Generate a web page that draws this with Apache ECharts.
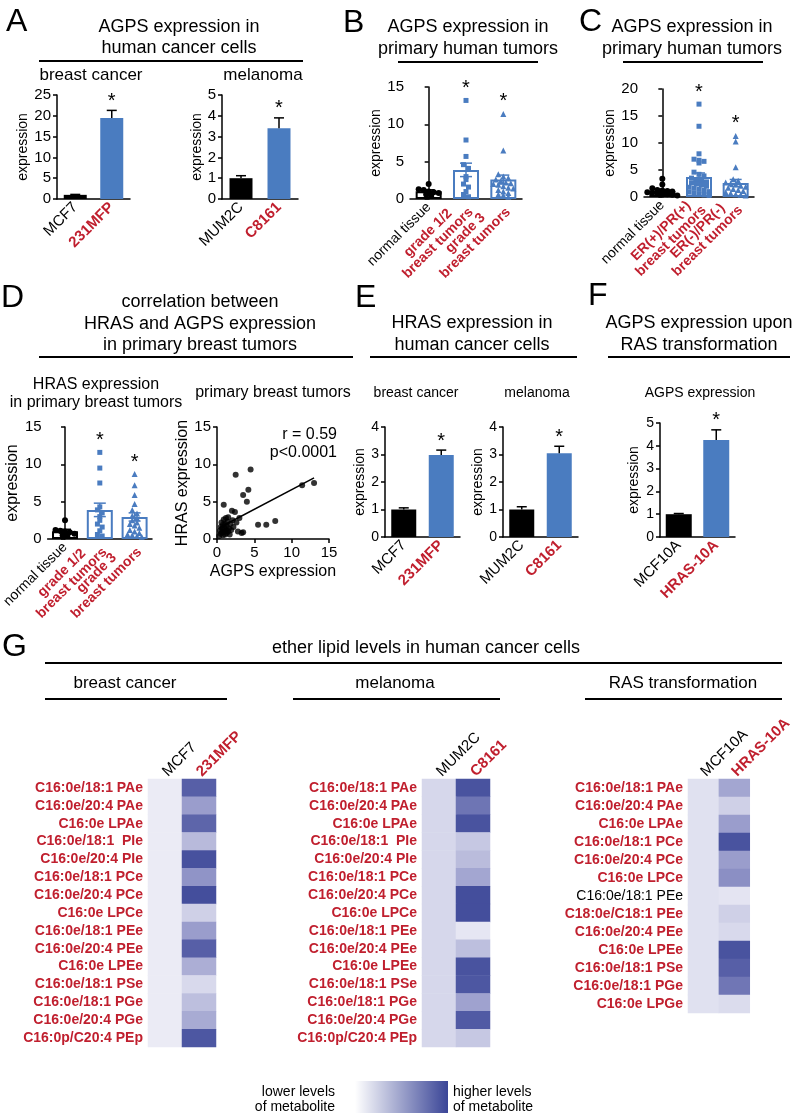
<!DOCTYPE html>
<html><head><meta charset="utf-8">
<script src="https://cdn.jsdelivr.net/npm/echarts@6/dist/echarts.min.js"></script>
<style>html,body{margin:0;padding:0;background:#fff}#c{width:793px;height:1115px}</style>
</head><body><div id="c"></div>
<script>
// ================= DATA =================
// Panel A – AGPS expression in human cancer cells
const aBreastCats = ['MCF7', '231MFP'];
const aBreastMean = [1.0, 19.5];
const aBreastSem  = [0.1, 1.8];
const aBreastSig  = [false, true];
const aBreastTicks = [0, 5, 10, 15, 20, 25];
const aMelCats = ['MUM2C', 'C8161'];
const aMelMean = [1.0, 3.4];
const aMelSem  = [0.12, 0.5];
const aMelSig  = [false, true];
const aMelTicks = [0, 1, 2, 3, 4, 5];

// Panel B – AGPS expression in primary human tumors (by grade)
const bCats = ['normal tissue', 'grade 1/2\nbreast tumors', 'grade 3\nbreast tumors'];
const bNormal  = [2.0, 1.3, 1.2, 1.0, 0.9, 0.8, 0.6, 0.4];
const bGrade12 = [13.2, 7.9, 5.7, 4.6, 4.1, 3.0, 2.6, 2.0, 1.6, 1.0, 0.6, 0.3];
const bGrade3  = [11.4, 6.5, 3.3, 3.0, 2.8, 2.6, 2.4, 2.2, 2.1, 2.0, 1.9, 1.7, 1.5, 1.4, 1.2, 1.0, 0.8, 0.6, 0.5, 0.3];
const bMean = [1.05, 3.9, 2.6];
const bSem  = [0.18, 0.9, 0.6];
const bSig  = [false, true, true];
const bTicks = [0, 5, 10, 15];

// Panel C – AGPS expression in primary human tumors (by receptor status)
const cCats = ['normal tissue', 'ER(+)/PR(+)\nbreast tumors', 'ER(-)/PR(-)\nbreast tumors'];
const cNormal = [3.4, 2.3, 1.6, 1.3, 1.2, 1.1, 1.0, 0.9, 0.8, 0.7, 0.6, 0.5, 0.4, 0.3];
const cErPos  = [17.2, 13.1, 8.0, 7.0, 6.8, 6.6, 6.3, 4.6, 4.2, 3.9, 3.5, 3.2, 3.0, 2.8, 2.6, 2.4, 2.2, 2.0, 1.8, 1.6, 1.4, 1.2, 1.0, 0.9, 0.7, 0.5, 0.4, 0.3];
const cErNeg  = [11.3, 10.3, 5.5, 3.3, 3.0, 2.7, 2.5, 2.3, 2.1, 1.9, 1.7, 1.5, 1.3, 1.1, 0.9, 0.7, 0.5, 0.4, 0.3];
const cMean = [1.1, 3.7, 2.6];
const cSem  = [0.2, 0.75, 0.65];
const cSig  = [false, true, true];
const cTicks = [0, 5, 10, 15, 20];

// Panel D – HRAS expression in primary breast tumors + correlation
const dCats = ['normal tissue', 'grade 1/2\nbreast tumors', 'grade 3\nbreast tumors'];
const dNormal  = [2.5, 1.2, 1.1, 1.0, 0.9, 0.7, 0.5, 0.4];
const dGrade12 = [11.6, 9.5, 7.5, 4.3, 3.9, 3.5, 3.0, 2.5, 2.0, 1.6, 1.1, 0.6, 0.4];
const dGrade3  = [8.7, 7.2, 5.9, 4.7, 3.9, 3.4, 3.1, 2.8, 2.5, 2.2, 2.0, 1.8, 1.5, 1.2, 1.0, 0.8, 0.6, 0.5, 0.4, 0.3];
const dMean = [1.05, 3.9, 2.95];
const dSem  = [0.25, 0.9, 0.55];
const dSig  = [false, true, true];
const dTicks = [0, 5, 10, 15];
const dScatter = [[0.3,0.4],[0.4,1.1],[0.5,0.7],[0.5,1.6],[0.6,2.2],[0.7,0.9],[0.7,1.3],[0.8,0.5],[0.8,1.9],[0.9,2.6],[0.9,4.6],
  [1.0,1.0],[1.0,1.5],[1.1,0.6],[1.1,2.0],[1.2,1.2],[1.2,2.8],[1.3,0.8],[1.3,1.7],[1.4,2.3],[1.5,1.0],[1.5,2.9],[1.6,1.4],
  [1.7,0.6],[1.8,2.0],[1.9,1.2],[2.0,3.8],[2.1,2.5],[2.2,1.6],[2.4,3.6],[2.5,8.6],[2.6,2.2],[2.8,1.0],[3.0,2.8],[3.3,0.8],
  [3.5,5.9],[3.5,0.9],[4.0,5.0],[4.2,6.6],[4.5,9.3],[5.5,1.9],[6.6,1.9],[7.8,2.4],[11.4,7.2],[13.0,7.5]];
const dFitSlope = 0.525;
const dFitIntercept = 1.35;
const dFitRange = [0.3, 13.0];
const dScatterTicks = [0, 5, 10, 15];

// Panel E – HRAS expression in human cancer cells
const eBreastCats = ['MCF7', '231MFP'];
const eBreastMean = [1.0, 2.98];
const eBreastSem  = [0.06, 0.18];
const eMelCats = ['MUM2C', 'C8161'];
const eMelMean = [1.0, 3.05];
const eMelSem  = [0.1, 0.25];
const eSig = [false, true];
const eTicks = [0, 1, 2, 3, 4];

// Panel F – AGPS expression upon RAS transformation
const fCats = ['MCF10A', 'HRAS-10A'];
const fMean = [1.0, 4.25];
const fSem  = [0.03, 0.45];
const fSig  = [false, true];
const fTicks = [0, 1, 2, 3, 4, 5];

// Panel G – ether lipid levels (relative, 0 = lower, 1 = higher)
const gRows = ['C16:0e/18:1 PAe','C16:0e/20:4 PAe','C16:0e LPAe','C16:0e/18:1  PIe','C16:0e/20:4 PIe','C16:0e/18:1 PCe',
  'C16:0e/20:4 PCe','C16:0e LPCe','C16:0e/18:1 PEe','C16:0e/20:4 PEe','C16:0e LPEe','C16:0e/18:1 PSe','C16:0e/18:1 PGe',
  'C16:0e/20:4 PGe','C16:0p/C20:4 PEp'];
const gBreastCols = ['MCF7', '231MFP'];
const gBreastCtrl = [0.04,0.04,0.04,0.04,0.04,0.04,0.04,0.04,0.04,0.04,0.04,0.04,0.04,0.04,0.04];
const gBreastTrt  = [0.85,0.5,0.82,0.33,0.93,0.55,0.95,0.2,0.5,0.85,0.4,0.15,0.3,0.42,0.9];
const gMelCols = ['MUM2C', 'C8161'];
const gMelCtrl = [0.16,0.16,0.16,0.16,0.16,0.16,0.16,0.16,0.16,0.16,0.16,0.16,0.16,0.16,0.16];
const gMelTrt  = [0.92,0.73,0.92,0.25,0.32,0.45,0.95,0.95,0.07,0.3,0.92,0.9,0.47,0.88,0.25];
const gRasRows = ['C16:0e/18:1 PAe','C16:0e/20:4 PAe','C16:0e LPAe','C16:0e/18:1 PCe','C16:0e/20:4 PCe','C16:0e LPCe',
  'C16:0e/18:1 PEe','C18:0e/C18:1 PEe','C16:0e/20:4 PEe','C16:0e LPEe','C16:0e/18:1 PSe','C16:0e/18:1 PGe','C16:0e LPGe'];
const gRasPlainRows = ['C16:0e/18:1 PEe'];
const gRasCols = ['MCF10A', 'HRAS-10A'];
const gRasCtrl = [0.1,0.1,0.1,0.1,0.1,0.1,0.1,0.1,0.1,0.1,0.1,0.1,0.1];
const gRasTrt  = [0.45,0.2,0.5,0.92,0.5,0.58,0.08,0.2,0.15,0.92,0.85,0.72,0.13];

// ================= STYLE / BUILD =================
const FONT = "'Liberation Sans', Arial, Helvetica, sans-serif";
const BLUE = '#4a7cc0', RED = '#c01f2e';
const HEAT = ['#f2f2f9', '#9a9dcc', '#3a4597'];
const grid = [], xAxis = [], yAxis = [], series = [], graphic = [];

function richFor(size, lh) {
  return {
    k: { color: '#000', fontSize: size, fontFamily: FONT, lineHeight: lh || size + 1, align: 'center' },
    r: { color: RED, fontSize: size, fontWeight: 'bold', fontFamily: FONT, lineHeight: lh || size + 1, align: 'center' }
  };
}
function catFmt(v, idx) {
  const tag = idx === 0 ? 'k' : 'r';
  return String(v).split('\n').map(s => '{' + tag + '|' + s + '}').join('\n');
}
const AX = { color: '#000', width: 1.5 };
function valueAxis(gi, ticks, name, nameGap, fs, nameFs) {
  return {
    type: 'value', gridIndex: gi, min: ticks[0], max: ticks[ticks.length - 1], interval: ticks[1] - ticks[0],
    name, nameLocation: 'middle', nameGap,
    nameTextStyle: { fontFamily: FONT, fontSize: nameFs, color: '#000' },
    axisLine: { show: true, lineStyle: AX },
    axisTick: { show: true, length: 4, lineStyle: AX },
    axisLabel: { color: '#000', fontFamily: FONT, fontSize: fs, margin: 6 },
    splitLine: { show: false }
  };
}
function catAxis(gi, cats, fs, lh) {
  return {
    type: 'category', gridIndex: gi, data: cats,
    axisLine: { show: true, lineStyle: AX }, axisTick: { show: false },
    axisLabel: { interval: 0, rotate: 45, margin: 6, formatter: catFmt, rich: richFor(fs, lh), fontSize: fs, fontFamily: FONT }
  };
}
function errSeries(xi, yi, mean, sem, sig, colors, both, capW, tops, starGap) {
  const data = mean.map((m, i) => [i, m, sem[i], sig[i] ? 1 : 0, tops ? tops[i] : m + sem[i]]);
  return {
    type: 'custom', xAxisIndex: xi, yAxisIndex: yi, data, z: 10, silent: true,
    renderItem: (p, api) => {
      const i = api.value(0), m = api.value(1), s = api.value(2), g = api.value(3), top = api.value(4);
      const hi = api.coord([i, m + s]), lo = api.coord([i, both ? m - s : m]);
      const st = { stroke: colors[i], lineWidth: 1.5 };
      const ch = [
        { type: 'line', shape: { x1: hi[0], y1: hi[1], x2: lo[0], y2: lo[1] }, style: st },
        { type: 'line', shape: { x1: hi[0] - capW / 2, y1: hi[1], x2: hi[0] + capW / 2, y2: hi[1] }, style: st }
      ];
      if (both) ch.push({ type: 'line', shape: { x1: lo[0] - capW / 2, y1: lo[1], x2: lo[0] + capW / 2, y2: lo[1] }, style: st });
      if (g) {
        const t = api.coord([i, top]);
        ch.push({ type: 'text', style: { text: '*', x: t[0], y: t[1] - starGap, textAlign: 'center', align: 'center',
          textVerticalAlign: 'middle', verticalAlign: 'middle', fontSize: 20, fontFamily: FONT, fill: '#000' } });
      }
      return { type: 'group', children: ch };
    }
  };
}
function filledPanel(o) {
  const gi = grid.push({ left: o.left, top: o.top, width: o.width, height: o.height }) - 1;
  const xi = xAxis.push(catAxis(gi, o.cats, o.catFs || 15)) - 1;
  const yi = yAxis.push(valueAxis(gi, o.ticks, 'expression', o.nameGap, o.tickFs || 15, o.nameFs || 14)) - 1;
  series.push({ type: 'bar', xAxisIndex: xi, yAxisIndex: yi, barWidth: o.barW, silent: true,
    data: o.mean.map((v, i) => ({ value: v, itemStyle: { color: i === 0 ? '#000' : BLUE } })) });
  series.push(errSeries(xi, yi, o.mean, o.sem, o.sig, o.mean.map(() => '#000'), false, 10, null, 9));
}
function swarm(vals, pyu, pxu, rowPx, stepPx) {
  const bins = {};
  vals.forEach((v, i) => { const b = Math.floor(v * pyu / rowPx); (bins[b] = bins[b] || []).push(i); });
  const off = new Array(vals.length).fill(0);
  Object.values(bins).forEach(list => {
    const m = list.length;
    list.forEach((idx, j) => { off[idx] = (j - (m - 1) / 2) * stepPx / pxu; });
  });
  return off;
}
function dotPanel(o) {
  const n = o.cats.length;
  const gi = grid.push({ left: o.left, top: o.top, width: o.width, height: o.height }) - 1;
  const xi = xAxis.push(catAxis(gi, o.cats, 14, 14)) - 1;
  const xv = xAxis.push({ type: 'value', gridIndex: gi, min: -0.5, max: n - 0.5, show: false }) - 1;
  const yi = yAxis.push(valueAxis(gi, o.ticks, o.yName, o.nameGap, 15, o.nameFs || 14)) - 1;
  const colors = ['#000', BLUE, BLUE];
  const symbols = ['circle', 'rect', 'triangle'];
  const sizes = [6, 5, 6];
  series.push({ type: 'bar', xAxisIndex: xi, yAxisIndex: yi, barWidth: o.barW, silent: true,
    data: o.mean.map((v, i) => ({ value: v, itemStyle: { color: 'rgba(255,255,255,0)', borderColor: colors[i], borderWidth: 2 } })) });
  const pyu = o.height / (o.ticks[o.ticks.length - 1] - o.ticks[0]);
  const pxu = o.width / n;
  const tops = [];
  o.groups.forEach((vals, gIdx) => {
    const off = swarm(vals, pyu, pxu, o.rowPx || 5, o.stepPx || 5);
    series.push({ type: 'scatter', xAxisIndex: xv, yAxisIndex: yi, symbol: symbols[gIdx], symbolSize: sizes[gIdx],
      itemStyle: { color: colors[gIdx], opacity: 1 }, silent: true, z: 4,
      data: vals.map((v, i) => [gIdx + off[i], v]) });
    tops.push(Math.max(o.mean[gIdx] + o.sem[gIdx], ...vals));
  });
  series.push(errSeries(xi, yi, o.mean, o.sem, o.sig, colors, true, 12, tops, 12));
}
function heatPanel(o) {
  const gi = grid.push({ left: o.left, top: o.top, width: o.width, height: o.height }) - 1;
  const xi = xAxis.push({ type: 'category', gridIndex: gi, position: 'top', data: o.cols,
    axisLine: { show: false }, axisTick: { show: false }, splitArea: { show: false },
    axisLabel: { interval: 0, rotate: -45, margin: 5, formatter: catFmt, rich: richFor(15) } }) - 1;
  const plain = o.plain || [];
  const yi = yAxis.push({ type: 'category', gridIndex: gi, inverse: true, data: o.rows,
    axisLine: { show: false }, axisTick: { show: false }, splitArea: { show: false },
    axisLabel: { interval: 0, margin: 5, formatter: v => (plain.includes(v) ? '{n|' : '{r|') + v + '}',
      rich: { r: { color: RED, fontWeight: 'bold', fontSize: 14, fontFamily: FONT },
              n: { color: '#000', fontSize: 14, fontFamily: FONT } } } }) - 1;
  const data = [];
  o.rows.forEach((r, j) => { data.push([0, j, o.ctrl[j]]); data.push([1, j, o.trt[j]]); });
  return series.push({ type: 'heatmap', xAxisIndex: xi, yAxisIndex: yi, data, silent: true,
    itemStyle: { borderWidth: 0 }, emphasis: { disabled: true } }) - 1;
}
function txt(x, y, text, o = {}) {
  graphic.push({ type: 'text', x, y, silent: true, style: { text, fontSize: o.size || 18, fontFamily: FONT,
    fill: o.color || '#000', fontWeight: o.weight || 'normal',
    textAlign: o.align || 'center', align: o.align || 'center', textVerticalAlign: 'middle', verticalAlign: 'middle' } });
}
function hline(x1, x2, y) {
  graphic.push({ type: 'line', silent: true, shape: { x1, y1: y, x2, y2: y }, style: { stroke: '#000', lineWidth: 2 } });
}

// ---- Panel A ----
txt(6, 22, 'A', { size: 32, align: 'left' });
txt(179, 27, 'AGPS expression in'); txt(179, 48, 'human cancer cells');
hline(39, 303, 61);
txt(91, 75, 'breast cancer', { size: 17 }); txt(263, 75, 'melanoma', { size: 17 });
filledPanel({ left: 57, top: 95, width: 73, height: 104, cats: aBreastCats, mean: aBreastMean, sem: aBreastSem,
  sig: aBreastSig, ticks: aBreastTicks, nameGap: 23, barW: 23 });
filledPanel({ left: 222, top: 95, width: 76, height: 104, cats: aMelCats, mean: aMelMean, sem: aMelSem,
  sig: aMelSig, ticks: aMelTicks, nameGap: 17, barW: 23 });

// ---- Panel B ----
txt(343, 23, 'B', { size: 32, align: 'left' });
txt(468, 27, 'AGPS expression in'); txt(468, 49, 'primary human tumors');
hline(398, 538, 62);
dotPanel({ left: 410, top: 87, width: 112, height: 112, cats: bCats, groups: [bNormal, bGrade12, bGrade3],
  mean: bMean, sem: bSem, sig: bSig, ticks: bTicks, yName: 'expression', nameGap: 24, barW: 26 });

// ---- Panel C ----
txt(579, 22, 'C', { size: 32, align: 'left' });
txt(692, 27, 'AGPS expression in'); txt(692, 49, 'primary human tumors');
hline(623, 763, 62);
dotPanel({ left: 644, top: 89, width: 110, height: 108, cats: cCats, groups: [cNormal, cErPos, cErNeg],
  mean: cMean, sem: cSem, sig: cSig, ticks: cTicks, yName: 'expression', nameGap: 19, barW: 26, rowPx: 5, stepPx: 5 });

// ---- Panel D ----
txt(1, 298, 'D', { size: 32, align: 'left' });
txt(200, 302, 'correlation between'); txt(200, 324, 'HRAS and AGPS expression'); txt(200, 345, 'in primary breast tumors');
hline(39, 353, 357);
txt(96, 385, 'HRAS expression', { size: 16 }); txt(96, 403, 'in primary breast tumors', { size: 16 });
txt(273, 393, 'primary breast tumors', { size: 16 });
dotPanel({ left: 42, top: 427, width: 110, height: 112, cats: dCats, groups: [dNormal, dGrade12, dGrade3],
  mean: dMean, sem: dSem, sig: dSig, ticks: dTicks, yName: 'expression', nameGap: 26, nameFs: 16, barW: 26 });
(function () {
  const gi = grid.push({ left: 217, top: 427, width: 112, height: 112 }) - 1;
  const xa = valueAxis(gi, dScatterTicks, 'AGPS expression', 25, 15, 16);
  const xi = xAxis.push(xa) - 1;
  const yi = yAxis.push(valueAxis(gi, dTicks, 'HRAS expression', 26, 15, 16)) - 1;
  series.push({ type: 'scatter', xAxisIndex: xi, yAxisIndex: yi, symbol: 'circle', symbolSize: 6, silent: true,
    itemStyle: { color: '#000' }, data: dScatter });
  series.push({ type: 'line', xAxisIndex: xi, yAxisIndex: yi, symbol: 'none', silent: true,
    lineStyle: { color: '#000', width: 1.5 },
    data: dFitRange.map(x => [x, dFitIntercept + dFitSlope * x]) });
})();
txt(337, 435, 'r = 0.59', { size: 16, align: 'right' });
txt(337, 453, 'p<0.0001', { size: 16, align: 'right' });

// ---- Panel E ----
txt(355, 298, 'E', { size: 32, align: 'left' });
txt(472, 323, 'HRAS expression in'); txt(472, 345, 'human cancer cells');
hline(370, 577, 357);
txt(416, 393, 'breast cancer', { size: 14 }); txt(537, 393, 'melanoma', { size: 14 });
filledPanel({ left: 385, top: 427, width: 75, height: 110, cats: eBreastCats, mean: eBreastMean, sem: eBreastSem,
  sig: eSig, ticks: eTicks, nameGap: 16, barW: 25, tickFs: 14 });
filledPanel({ left: 503, top: 427, width: 75, height: 110, cats: eMelCats, mean: eMelMean, sem: eMelSem,
  sig: eSig, ticks: eTicks, nameGap: 18, barW: 25, tickFs: 14 });

// ---- Panel F ----
txt(588, 296, 'F', { size: 32, align: 'left' });
txt(699, 323, 'AGPS expression upon'); txt(699, 345, 'RAS transformation');
hline(608, 790, 357);
txt(700, 393, 'AGPS expression', { size: 14 });
filledPanel({ left: 660, top: 423, width: 75, height: 114, cats: fCats, mean: fMean, sem: fSem,
  sig: fSig, ticks: fTicks, nameGap: 19, barW: 26, tickFs: 14 });

// ---- Panel G ----
txt(2, 647, 'G', { size: 32, align: 'left' });
txt(426, 648, 'ether lipid levels in human cancer cells');
hline(45, 782, 663);
txt(125, 683, 'breast cancer', { size: 17 }); txt(395, 683, 'melanoma', { size: 17 }); txt(683, 683, 'RAS transformation', { size: 17 });
hline(45, 227, 699); hline(293, 500, 699); hline(585, 782, 699);
const heatIdx = [
  heatPanel({ left: 148, top: 779, width: 68, height: 268, cols: gBreastCols, rows: gRows, ctrl: gBreastCtrl, trt: gBreastTrt }),
  heatPanel({ left: 422, top: 779, width: 68, height: 268, cols: gMelCols, rows: gRows, ctrl: gMelCtrl, trt: gMelTrt }),
  heatPanel({ left: 688, top: 779, width: 69, height: 234, cols: gRasCols, rows: gRasRows, ctrl: gRasCtrl, trt: gRasTrt, plain: gRasPlainRows })
];
// legend
graphic.push({ type: 'rect', silent: true, shape: { x: 355, y: 1081, width: 93, height: 32 },
  style: { fill: { type: 'linear', x: 0, y: 0, x2: 1, y2: 0, colorStops: [{ offset: 0, color: '#ffffff' }, { offset: 1, color: HEAT[2] }] } } });
txt(335, 1092, 'lower levels', { size: 14, align: 'right' }); txt(335, 1107, 'of metabolite', { size: 14, align: 'right' });
txt(453, 1092, 'higher levels', { size: 14, align: 'left' }); txt(453, 1107, 'of metabolite', { size: 14, align: 'left' });

const chart = echarts.init(document.getElementById('c'), null, { renderer: 'canvas' });
chart.setOption({
  animation: false,
  backgroundColor: '#fff',
  textStyle: { fontFamily: FONT },
  grid, xAxis, yAxis, series, graphic,
  visualMap: { show: false, type: 'continuous', min: 0, max: 1, seriesIndex: heatIdx, inRange: { color: HEAT } }
});
</script></body></html>
